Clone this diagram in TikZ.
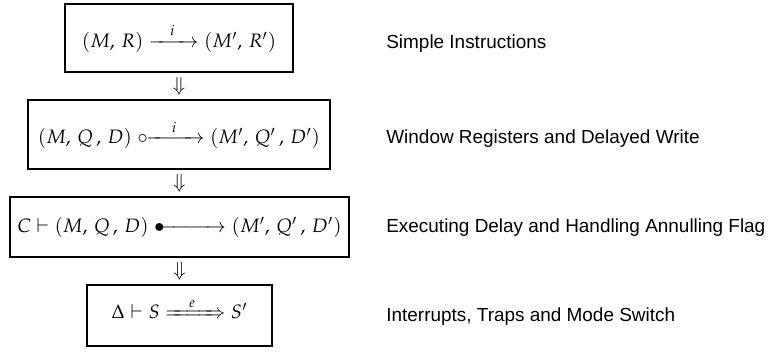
\documentclass[tikz,border=0pt]{standalone}
\usepackage{amsmath}
\usepackage{mathtools}
\usepackage{mathpazo}
\usepackage[no-math]{fontspec}
\newfontfamily\lblfont{Liberation Sans}
\usetikzlibrary{positioning}

% arrow bodies of fixed length
\newcommand{\arrlbl}[2]{\makebox[#1]{$\scriptstyle #2$}}

\begin{document}
\begin{tikzpicture}[x=0.565pt,y=-0.565pt,
  every node/.style={font=\fontsize{10.95}{13}\selectfont},
  layer/.style={draw,line width=1.1pt,inner sep=0pt,anchor=center},
  caption/.style={anchor=west,inner sep=0pt,font=\fontsize{10.7}{13}\selectfont\lblfont},
  refine/.style={midway,inner sep=0pt}]
  \useasboundingbox (0,0) rectangle (769,352);

  % the four semantic layers
  \node[layer,minimum width=228*0.565pt,minimum height=68*0.565pt] (b1) at (179,38)
    {$(M,\, R) \xrightarrow{\arrlbl{22pt}{i}} (M',\, R')$};
  \node[layer,minimum width=302*0.565pt,minimum height=69*0.565pt] (b2) at (179,134.5)
    {$(M,\, Q\,,\, D) \mathrel{\circ\mkern-7mu\xrightarrow{\arrlbl{27pt}{i}}} (M',\, Q'\,,\, D')$};
  \node[layer,minimum width=339*0.565pt,minimum height=60*0.565pt] (b3) at (179.5,227)
    {$C \vdash (M,\, Q\,,\, D) \mathrel{\bullet\mkern-9mu\xrightarrow{\arrlbl{31pt}{}}} (M',\, Q'\,,\, D')$};
  \node[layer,minimum width=185*0.565pt,minimum height=61*0.565pt] (b4) at (179.5,315.5)
    {$\Delta \vdash S \xRightarrow{\arrlbl{26pt}{e}} S'$};

  % refinement steps between layers
  \path (b1.south) -- (b2.north) node[refine] (r1) {$\Downarrow$};
  \path (b2.south) -- (b3.north) node[refine] (r2) {$\Downarrow$};
  \path (b3.south) -- (b4.north) node[refine] (r3) {$\Downarrow$};

  % descriptions
  \node[caption] (c1) at (386,44) {Simple Instructions};
  \node[caption] (c2) at (386,139) {Window Registers and Delayed Write};
  \node[caption] (c3) at (386,228) {Executing Delay and Handling Annulling Flag};
  \node[caption] (c4) at (386,317) {Interrupts, Traps and Mode Switch};
\end{tikzpicture}
\end{document}
